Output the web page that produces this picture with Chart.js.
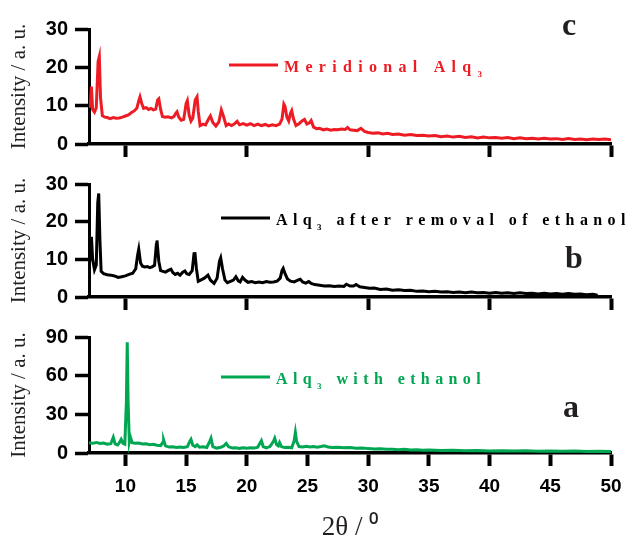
<!DOCTYPE html>
<html>
<head>
<meta charset="utf-8">
<script src="https://cdn.jsdelivr.net/npm/chart.js@4.4.0/dist/chart.umd.min.js"></script>
<style>
  html, body { margin: 0; padding: 0; background: #fff; }
  #wrap { position: relative; width: 632px; height: 545px; }
  #wrap canvas { position: absolute; left: 0; top: 0; }
</style>
</head>
<body>
<div id="wrap">
  <canvas id="panelC" width="632" height="545"></canvas>
  <canvas id="panelB" width="632" height="545"></canvas>
  <canvas id="panelA" width="632" height="545"></canvas>
</div>
<script>
// tick labels
const xTicksTop = [10, 20, 30, 40, 50];
const xTicksBottom = [10, 15, 20, 25, 30, 35, 40, 45, 50];
const yTicksSmall = [0, 10, 20, 30];
const yTicksBig = [0, 30, 60, 90];

// series names (_3 = subscript 3) and panel letters
const seriesNames = ['Meridional Alq_3', 'Alq_3 after removal of ethanol', 'Alq_3 with ethanol'];
const panelLetters = ['c', 'b', 'a'];
const seriesColors = ['#ed1c24', '#000000', '#00a651'];

// c: meridional Alq3
const meridionalX = [7.0, 7.1, 7.2, 7.3, 7.45, 7.6, 7.75, 7.85, 7.95, 8.1, 8.3, 8.5, 8.75, 9.0, 9.25, 9.5, 9.75, 10.0, 10.25, 10.5,
  10.75, 10.95, 11.1, 11.2, 11.35, 11.5, 11.7, 11.9, 12.1, 12.3, 12.5, 12.65, 12.75, 12.9, 13.05, 13.3, 13.5, 13.8, 14.0, 14.15,
  14.25, 14.4, 14.6, 14.8, 15.0, 15.1, 15.25, 15.4, 15.55, 15.75, 15.9, 16.0, 16.15, 16.4, 16.6, 16.85, 17.0, 17.2, 17.45, 17.7,
  17.9, 18.05, 18.3, 18.5, 18.75, 19.0, 19.2, 19.4, 19.7, 20.0, 20.3, 20.6, 20.9, 21.2, 21.5, 21.8, 22.1, 22.4, 22.7, 22.9,
  23.05, 23.15, 23.3, 23.45, 23.6, 23.7, 23.85, 24.05, 24.3, 24.55, 24.75, 24.95, 25.15, 25.3, 25.5, 25.75, 26.0, 26.3, 26.6, 26.9,
  27.2, 27.5, 27.8, 28.1, 28.3, 28.5, 28.8, 29.1, 29.4, 29.7, 30.0, 30.4, 30.8, 31.2, 31.6, 32.0, 32.5, 33.0, 33.5, 34.0,
  34.5, 35.0, 35.5, 36.0, 36.5, 37.0, 37.5, 38.0, 38.5, 39.0, 39.5, 40.0, 40.5, 41.0, 41.5, 42.0, 42.5, 43.0, 43.5, 44.0,
  44.5, 45.0, 45.5, 46.0, 46.5, 47.0, 47.5, 48.0, 48.5, 49.0, 49.5, 50.0];
const meridionalY = [9.5, 10.2, 15.0, 9.0, 8.3, 9.5, 21.5, 22.8, 12.0, 7.4, 7.0, 6.9, 6.6, 6.9, 6.7, 6.8, 7.0, 7.3, 7.6, 8.2,
  8.7, 9.4, 11.3, 12.3, 10.5, 9.3, 9.5, 9.0, 9.3, 8.9, 9.1, 11.5, 11.8, 9.0, 7.2, 7.0, 7.1, 6.8, 7.2, 8.0,
  8.4, 7.0, 6.2, 6.4, 10.5, 11.3, 7.5, 6.0, 6.8, 11.5, 12.3, 8.5, 4.8, 5.2, 5.0, 6.5, 7.3, 5.6, 4.7, 5.8,
  8.9, 7.5, 4.8, 5.2, 4.8, 5.3, 5.9, 5.0, 5.3, 4.9, 5.3, 4.8, 5.2, 4.8, 5.1, 4.7, 5.0, 4.8, 5.2, 6.5,
  10.4, 9.8, 7.0, 6.0, 8.0, 8.7, 6.5, 4.8, 5.3, 6.0, 6.4, 5.2, 5.5, 6.1, 4.4, 4.0, 4.1, 3.7, 3.9, 3.6,
  3.8, 3.7, 3.9, 3.8, 4.3, 3.7, 3.6, 3.5, 4.1, 3.3, 3.0, 2.8, 2.9, 2.6, 2.8, 2.5, 2.6, 2.3, 2.5, 2.2,
  2.3, 2.1, 2.2, 1.9, 2.1, 1.8, 2.0, 1.7, 1.9, 1.6, 1.8, 1.6, 1.7, 1.5, 1.7, 1.4, 1.6, 1.4, 1.5, 1.3,
  1.5, 1.3, 1.4, 1.2, 1.4, 1.2, 1.3, 1.1, 1.3, 1.2, 1.3, 1.1];

// b: Alq3 after removal of ethanol
const removedX = [7.0, 7.1, 7.2, 7.3, 7.45, 7.6, 7.72, 7.8, 7.9, 8.0, 8.2, 8.5, 8.8, 9.1, 9.4, 9.7, 10.0, 10.3, 10.6, 10.85,
  11.0, 11.1, 11.25, 11.4, 11.6, 11.8, 12.0, 12.2, 12.4, 12.55, 12.6, 12.75, 12.9, 13.1, 13.3, 13.5, 13.75, 13.9, 14.1, 14.3,
  14.5, 14.7, 14.9, 15.05, 15.25, 15.5, 15.65, 15.72, 15.85, 16.0, 16.2, 16.5, 16.8, 17.0, 17.3, 17.55, 17.75, 17.85, 18.0, 18.2,
  18.4, 18.7, 18.9, 19.1, 19.3, 19.45, 19.65, 19.85, 20.1, 20.4, 20.7, 21.0, 21.3, 21.6, 21.9, 22.2, 22.5, 22.75, 22.9, 23.0,
  23.15, 23.35, 23.6, 23.9, 24.2, 24.4, 24.6, 24.85, 25.1, 25.3, 25.6, 26.0, 26.4, 26.8, 27.2, 27.6, 28.0, 28.2, 28.5, 28.8,
  29.0, 29.3, 29.7, 30.1, 30.5, 31.0, 31.5, 32.0, 32.5, 33.0, 33.5, 34.0, 34.5, 35.0, 35.5, 36.0, 36.5, 37.0, 37.5, 38.0,
  38.5, 39.0, 39.5, 40.0, 40.5, 41.0, 41.5, 42.0, 42.5, 43.0, 43.5, 44.0, 44.5, 45.0, 45.5, 46.0, 46.5, 47.0, 47.5, 48.0,
  48.5, 48.9];
const removedY = [9.0, 10.0, 16.0, 10.0, 7.2, 8.5, 25.0, 27.5, 15.0, 6.8, 6.2, 5.9, 5.8, 5.6, 5.2, 5.4, 5.6, 6.0, 6.3, 7.5,
  11.0, 12.7, 9.0, 8.2, 8.0, 8.1, 7.8, 8.0, 8.4, 14.0, 15.0, 9.5, 7.0, 6.8, 6.6, 7.0, 7.4, 6.5, 6.0, 6.3,
  5.8, 6.5, 6.9, 6.2, 6.0, 7.0, 11.5, 11.9, 7.5, 4.2, 4.5, 5.0, 5.8, 4.5, 3.6, 5.0, 9.5, 10.4, 7.5, 4.5,
  3.8, 4.2, 4.5, 5.4, 4.3, 4.0, 5.2, 4.5, 3.9, 4.1, 3.8, 4.0, 3.8, 4.1, 3.9, 4.0, 4.2, 5.0, 7.0, 7.6,
  6.2, 4.8, 4.2, 4.0, 4.5, 4.7, 4.0, 3.7, 4.1, 3.6, 3.3, 3.1, 2.9, 3.0, 2.8, 2.9, 2.8, 3.4, 2.9, 2.9,
  3.3, 2.7, 2.5, 2.3, 2.4, 2.0, 2.1, 1.8, 1.9, 1.7, 1.8, 1.5, 1.6, 1.4, 1.5, 1.3, 1.4, 1.2, 1.3, 1.1,
  1.3, 1.1, 1.2, 1.0, 1.2, 1.0, 1.1, 0.9, 1.1, 0.9, 1.0, 0.8, 1.0, 0.8, 0.9, 0.7, 0.9, 0.7, 0.8, 0.6,
  0.7, 0.5];

// a: Alq3 with ethanol
const ethanolX = [7.0, 7.3, 7.6, 7.9, 8.2, 8.5, 8.8, 9.0, 9.15, 9.35, 9.5, 9.65, 9.8, 9.95, 10.08, 10.15, 10.22, 10.32, 10.4, 10.55,
  10.8, 11.1, 11.4, 11.7, 12.0, 12.3, 12.6, 12.9, 13.1, 13.15, 13.3, 13.6, 13.9, 14.2, 14.5, 14.8, 15.1, 15.3, 15.4, 15.55,
  15.75, 15.9, 16.1, 16.4, 16.7, 16.95, 17.05, 17.2, 17.5, 17.8, 18.1, 18.3, 18.5, 18.8, 19.1, 19.4, 19.7, 20.0, 20.3, 20.6,
  20.9, 21.1, 21.2, 21.35, 21.6, 21.9, 22.2, 22.3, 22.45, 22.6, 22.7, 22.85, 23.1, 23.4, 23.7, 23.9, 24.0, 24.1, 24.3, 24.6,
  24.9, 25.2, 25.5, 25.8, 26.1, 26.4, 26.7, 27.0, 27.5, 28.0, 28.5, 29.0, 29.5, 30.0, 30.5, 31.0, 31.5, 32.0, 32.5, 33.0,
  33.5, 34.0, 34.5, 35.0, 36.0, 37.0, 38.0, 39.0, 40.0, 41.0, 42.0, 43.0, 44.0, 45.0, 46.0, 47.0, 48.0, 49.0, 50.0];
const ethanolY = [8.0, 7.5, 8.2, 7.4, 7.8, 6.9, 7.2, 12.2, 7.0, 6.2, 8.0, 10.6, 7.5, 6.8, 40.0, 86.0, 40.0, 9.0, 12.7, 8.0,
  7.5, 7.7, 7.0, 7.2, 6.5, 6.8, 6.0, 5.7, 8.5, 10.0, 5.5, 4.6, 4.9, 4.3, 4.6, 4.2, 4.8, 9.0, 10.6, 6.0,
  5.0, 6.3, 4.5, 4.8, 4.3, 9.0, 11.4, 5.0, 3.8, 4.2, 5.5, 7.5, 4.8, 3.9, 4.1, 3.6, 4.0, 3.7, 4.1, 3.8,
  4.5, 8.0, 9.6, 5.0, 4.0, 5.0, 9.0, 11.4, 6.5, 5.5, 8.0, 5.0, 4.2, 4.5, 4.0, 9.5, 15.8, 9.0, 5.0, 4.7,
  5.2, 4.6, 5.0, 4.5, 5.0, 5.6, 4.6, 4.2, 4.5, 4.0, 4.2, 3.7, 3.9, 3.4, 3.1, 3.3, 2.9, 3.0, 2.6, 2.9,
  2.4, 2.6, 2.2, 2.4, 2.0, 2.2, 1.8, 2.0, 1.6, 1.8, 1.5, 1.7, 1.4, 1.6, 1.3, 1.5, 1.2, 1.4, 1.1];

function spaced(ctx, str, x, y, gap) {
  for (const ch of str) {
    ctx.fillText(ch, x, y);
    x += ctx.measureText(ch).width + gap;
  }
  return x;
}

// legend line + letter-spaced label with subscript, and the panel letter
const panelText = {
  id: 'panelText',
  afterDraw(chart, args, o) {
    const ctx = chart.ctx;
    ctx.save();
    ctx.strokeStyle = o.color;
    ctx.lineWidth = 3;
    ctx.beginPath();
    ctx.moveTo(o.lx, o.ly);
    ctx.lineTo(o.lx + 49, o.ly);
    ctx.stroke();

    ctx.fillStyle = o.color;
    ctx.textAlign = 'left';
    ctx.textBaseline = 'alphabetic';
    const parts = o.text.split('_3');
    const big = 'bold 16px "Liberation Serif", serif';
    ctx.font = big;
    let x = spaced(ctx, parts[0], o.lx + 55, o.ly + 7, o.gap);
    ctx.font = 'bold 9px "Liberation Serif", serif';
    x = spaced(ctx, '3', x, o.ly + 12, o.gap);
    ctx.font = big;
    spaced(ctx, parts[1], x, o.ly + 7, o.gap);

    ctx.fillStyle = '#231f20';
    ctx.font = 'bold 32px "Liberation Serif", serif';
    ctx.fillText(o.letter, o.px, o.py);
    ctx.restore();
  }
};

function makePanel(id, p) {
  const tickFont = { family: '"Liberation Sans", Arial, sans-serif', size: 20, weight: 'bold' };
  new Chart(document.getElementById(id), {
    type: 'line',
    data: {
      datasets: [{
        label: p.name,
        data: p.xs.map((x, i) => ({ x: x, y: p.ys[i] })),
        borderColor: p.color,
        borderWidth: 3,
        pointRadius: 0,
        tension: 0,
        fill: false
      }]
    },
    options: {
      responsive: false,
      animation: false,
      layout: { padding: { left: 0, right: 21, top: p.top, bottom: 545 - p.bottom - p.xh } },
      plugins: {
        legend: { display: false },
        tooltip: { enabled: false },
        panelText: { color: p.color, text: p.name, lx: p.lx, ly: p.ly, gap: p.gap, letter: p.letter, px: p.px, py: p.py }
      },
      scales: {
        x: {
          type: 'linear',
          min: 7,
          max: 50,
          afterBuildTicks: s => { s.ticks = p.xTicks.map(v => ({ value: v })); },
          afterFit: s => { s.height = p.xh; s.paddingLeft = 0; s.paddingRight = 0; },
          border: { display: true, color: '#000', width: 3.5 },
          grid: { display: true, drawOnChartArea: false, drawTicks: true, tickLength: 13, tickWidth: 4, tickColor: '#000' },
          ticks: { display: p.xLabels, color: '#000', font: { family: '"Liberation Sans", Arial, sans-serif', size: 19, weight: 'bold' }, padding: 9, maxRotation: 0 },
          title: {
            display: p.xLabels,
            text: '2θ / ⁰',
            color: '#231f20',
            font: { family: '"Liberation Serif", serif', size: 27 },
            padding: { top: 0, bottom: 1 }
          }
        },
        y: {
          min: 0,
          max: p.yTicks[p.yTicks.length - 1],
          afterBuildTicks: s => { s.ticks = p.yTicks.map(v => ({ value: v })); },
          afterFit: s => { s.width = 89; s.paddingTop = 0; s.paddingBottom = 0; },
          border: { display: true, color: '#000', width: 3 },
          grid: { display: true, drawOnChartArea: false, drawTicks: true, tickLength: 14, tickWidth: 3.5, tickColor: '#000' },
          ticks: { color: '#000', font: tickFont, padding: 7 },
          title: {
            display: true,
            text: 'Intensity / a. u.',
            color: '#231f20',
            font: { family: '"Liberation Serif", serif', size: 21 },
            padding: { top: 7, bottom: 0 }
          }
        }
      }
    },
    plugins: [panelText]
  });
}

makePanel('panelC', {
  name: seriesNames[0], color: seriesColors[0], xs: meridionalX, ys: meridionalY,
  top: 29, bottom: 144, xh: 15, xTicks: xTicksTop, yTicks: yTicksSmall, xLabels: false,
  lx: 229, ly: 65, gap: 6.3, letter: panelLetters[0], px: 562, py: 35
});
makePanel('panelB', {
  name: seriesNames[1], color: seriesColors[1], xs: removedX, ys: removedY,
  top: 184, bottom: 297, xh: 15, xTicks: xTicksTop, yTicks: yTicksSmall, xLabels: false,
  lx: 221, ly: 218, gap: 5.4, letter: panelLetters[1], px: 565, py: 268
});
makePanel('panelA', {
  name: seriesNames[2], color: seriesColors[2], xs: ethanolX, ys: ethanolY,
  top: 337, bottom: 453, xh: 92, xTicks: xTicksBottom, yTicks: yTicksBig, xLabels: true,
  lx: 221, ly: 377, gap: 5.4, letter: panelLetters[2], px: 563, py: 417
});
</script>
</body>
</html>
